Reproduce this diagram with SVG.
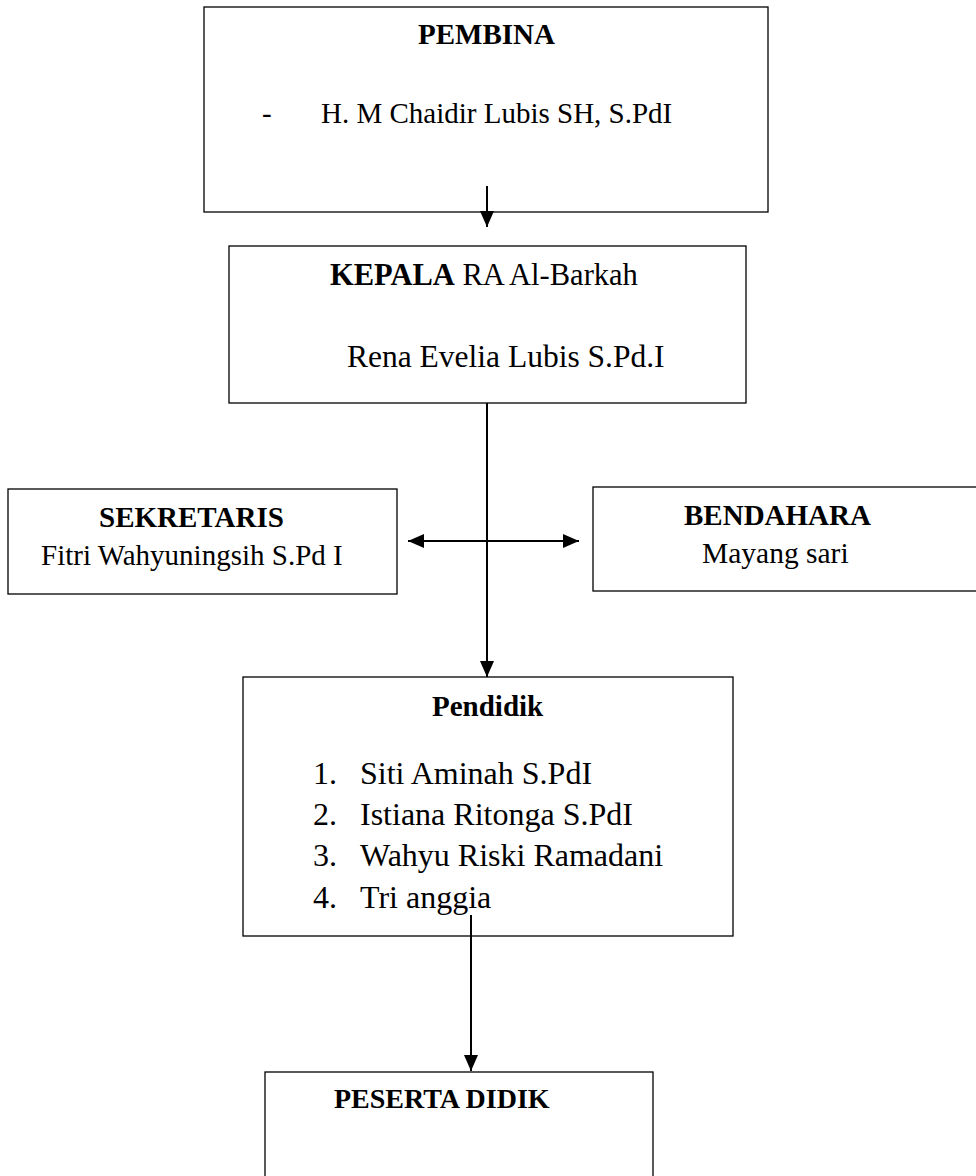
<svg xmlns="http://www.w3.org/2000/svg" width="976" height="1176" viewBox="0 0 976 1176">
<style>
.box{fill:#fff;stroke:#000;stroke-width:1.3}
.t{font-family:"Liberation Serif","Times New Roman",serif;fill:#000}
.b{font-weight:bold}
.c{stroke:#000;stroke-width:2;fill:none}
</style>
<defs>
<marker id="ah" viewBox="0 0 16 14" refX="16" refY="7" markerWidth="16" markerHeight="14" markerUnits="userSpaceOnUse" orient="auto-start-reverse">
<path d="M0,0 L16,7 L0,14 Z" fill="#000"/>
</marker>
</defs>
<rect width="976" height="1176" fill="#fff"/>
<g id="pembina">
<rect class="box" x="204" y="7" width="564" height="205"/>
<text class="t b" x="418" y="44" font-size="29">PEMBINA</text>
<text class="t" x="262" y="123" font-size="29">-</text>
<text class="t" x="321" y="123" font-size="29">H. M Chaidir Lubis SH, S.PdI</text>
</g>
<g id="kepala">
<rect class="box" x="229" y="246" width="517" height="157"/>
<text class="t" x="330" y="285" font-size="30.5"><tspan class="b">KEPALA</tspan> RA Al-Barkah</text>
<text class="t" x="347" y="367" font-size="31.5">Rena Evelia Lubis S.Pd.I</text>
</g>
<g id="sekretaris">
<rect class="box" x="8" y="489" width="389" height="105"/>
<text class="t b" x="99" y="527" font-size="29">SEKRETARIS</text>
<text class="t" x="41" y="565" font-size="29">Fitri Wahyuningsih S.Pd I</text>
</g>
<g id="bendahara">
<rect class="box" x="593" y="487" width="390" height="104"/>
<text class="t b" x="684" y="525" font-size="29">BENDAHARA</text>
<text class="t" x="702" y="563" font-size="29.5">Mayang sari</text>
</g>
<g id="pendidik">
<rect class="box" x="243" y="677" width="490" height="259"/>
<text class="t b" x="432" y="716" font-size="29">Pendidik</text>
<text class="t" font-size="32">
<tspan x="313" y="784">1.</tspan><tspan x="360" y="784">Siti Aminah S.PdI</tspan>
<tspan x="313" y="825">2.</tspan><tspan x="360" y="825">Istiana Ritonga S.PdI</tspan>
<tspan x="313" y="866">3.</tspan><tspan x="360" y="866">Wahyu Riski Ramadani</tspan>
<tspan x="313" y="908">4.</tspan><tspan x="360" y="908">Tri anggia</tspan>
</text>
</g>
<g id="peserta">
<rect class="box" x="265" y="1072" width="388" height="120"/>
<text class="t b" x="334" y="1108" font-size="28">PESERTA DIDIK</text>
</g>
<g id="connectors">
<line class="c" x1="487" y1="186" x2="487" y2="227" marker-end="url(#ah)"/>
<line class="c" x1="487" y1="403" x2="487" y2="677" marker-end="url(#ah)"/>
<line class="c" x1="408" y1="541" x2="579" y2="541" marker-start="url(#ah)" marker-end="url(#ah)"/>
<line class="c" x1="471" y1="915" x2="471" y2="1071" marker-end="url(#ah)"/>
</g>
</svg>
